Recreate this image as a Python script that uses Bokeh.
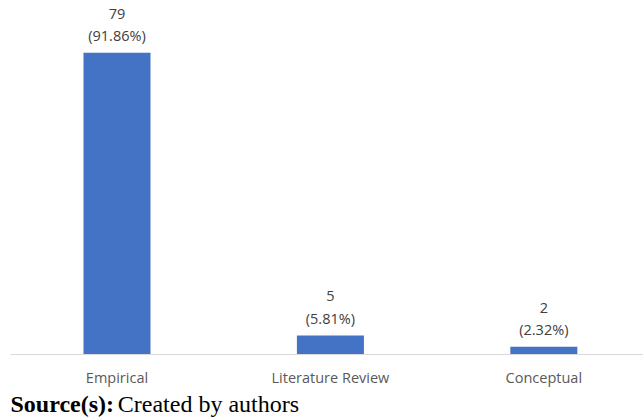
from bokeh.plotting import figure
from bokeh.layouts import column
from bokeh.models import ColumnDataSource, Range1d, FixedTicker
from bokeh.core.properties import value
from bokeh.embed import file_html
from bokeh.resources import INLINE

# Study types and counts
categories = ["Empirical", "Literature Review", "Conceptual"]
counts = [79, 5, 2]
pct_labels = ["(91.86%)", "(5.81%)", "(2.32%)"]
source_bold = "Source(s):"
source_text = "Created by authors"

xs = list(range(len(categories)))
src = ColumnDataSource(dict(
    x=xs,
    count=counts,
    count_text=[str(c) for c in counts],
    pct_text=pct_labels,
))

W = 643
p = figure(width=W, height=390, output_backend="svg", toolbar_location=None,
           x_range=Range1d(-0.499, 2.467), y_range=Range1d(0, 92.7),
           min_border_left=10, min_border_right=0, min_border_top=0,
           min_border_bottom=36)
p.outline_line_color = None
p.grid.grid_line_color = None
p.yaxis.visible = False

p.vbar(x="x", top="count", width=0.314, source=src,
       fill_color="#4472C4", line_color=None)

label_font = value("Open Sans")
p.text(x="x", y="count", text="count_text", source=src, y_offset=-39,
       text_align="center", text_baseline="middle", text_font=label_font,
       text_font_size="14.5px", text_color="#404040")
p.text(x="x", y="count", text="pct_text", source=src, y_offset=-17,
       text_align="center", text_baseline="middle", text_font=label_font,
       text_font_size="14.5px", text_color="#404040")

ax = p.xaxis[0]
ax.ticker = FixedTicker(ticks=xs)
ax.major_label_overrides = {i: c for i, c in zip(xs, categories)}
ax.axis_line_color = "#d9d9d9"
ax.axis_line_width = 1
ax.major_tick_line_color = None
ax.minor_tick_line_color = None
ax.major_label_standoff = 7
ax.major_label_text_font = "Open Sans"
ax.major_label_text_font_size = "14.5px"
ax.major_label_text_color = "#595959"

# Source note strip under the chart
note = figure(width=W, height=30, output_backend="svg", toolbar_location=None,
              x_range=Range1d(0, W), y_range=Range1d(0, 30),
              min_border=0)
note.outline_line_color = None
note.grid.grid_line_color = None
note.axis.visible = False
serif = value("Liberation Serif")
note.text(x=[0], y=[17], text=[source_bold], text_font=serif,
          text_font_style="bold", text_font_size="24px",
          text_baseline="middle", text_color="#000000")
note.text(x=[109], y=[17], text=[source_text], text_font=serif,
          text_font_size="24px", text_baseline="middle", text_color="#000000")

layout = column(p, note, spacing=0)
open("out.html", "w").write(file_html(layout, INLINE))
